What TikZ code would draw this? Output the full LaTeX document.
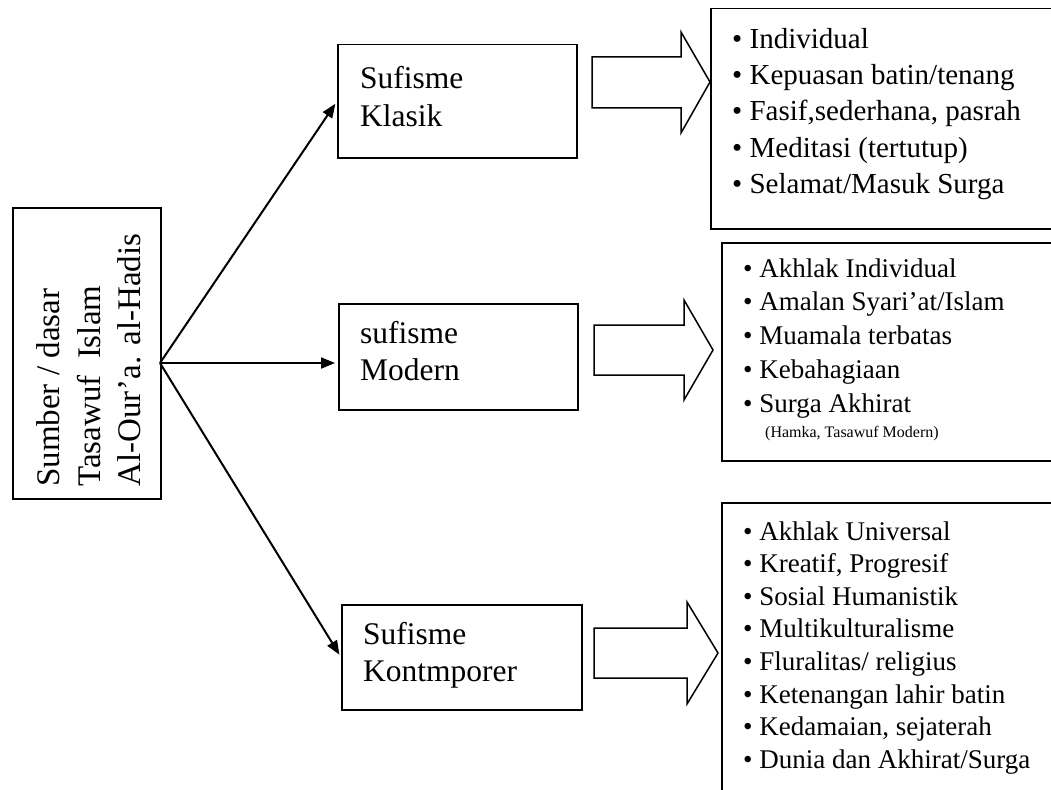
\documentclass[tikz,border=0pt]{standalone}
\usepackage{fontspec}
\setmainfont{Liberation Serif}
\usetikzlibrary{arrows.meta,calc}
\begin{document}
\begin{tikzpicture}[x=1pt,y=-1pt,
  box/.style={draw, line width=1.5pt, inner sep=0pt, anchor=north west},
  conn/.style={line width=2pt, -{Triangle[length=14pt,width=11pt]}, shorten >=3pt},
  blk/.style={draw, line width=1.5pt, line join=miter},
  rot/.style={rotate=90, anchor=base west, inner sep=0pt, font=\fontsize{33}{40}\selectfont},
  lbl/.style={anchor=base west, inner sep=0pt, font=\fontsize{31.5}{37}\selectfont},
  itma/.style={anchor=base west, inner sep=0pt, font=\fontsize{29}{36}\selectfont},
  itmb/.style={anchor=base west, inner sep=0pt, font=\fontsize{27}{33}\selectfont},
  note/.style={anchor=base west, inner sep=0pt, font=\fontsize{16}{19}\selectfont}]
\useasboundingbox (0,0) rectangle (1051,789);
\clip (0,0) rectangle (1051,789);

% main boxes
\node[box, minimum width=148pt, minimum height=291pt] (src) at (12,207) {};
\node[box, minimum width=239pt, minimum height=113pt] (klasik) at (337,44) {};
\node[box, minimum width=239pt, minimum height=106pt] (modern) at (338,303) {};
\node[box, minimum width=240pt, minimum height=105pt] (kont) at (341,604) {};

% right boxes (cut by the frame)
\node[box, minimum width=370pt, minimum height=220pt] (r1) at (710,8) {};
\node[box, minimum width=360pt, minimum height=218pt] (r2) at (721,242) {};
\node[box, minimum width=360pt, minimum height=320pt] (r3) at (721,502) {};

% rotated source text
\node[rot] (s1) at (59,487) {Sumber / dasar};
\node[rot] (s2) at (100,487) {Tasawuf\ \ Islam};
\node[rot] (s3) at (140,487) {Al-Our’a. al-Hadis};

% box labels
\node[lbl] (k1) at (360,89) {Sufisme};
\node[lbl] (k2) at (360,127) {Klasik};
\node[lbl] (m1) at (360,343) {sufisme};
\node[lbl] (m2) at (360,380) {Modern};
\node[lbl] (c1) at (363,644) {Sufisme};
\node[lbl] (c2) at (363,681) {Kontmporer};

% connectors
\coordinate (o) at (160,363);
\draw[conn] (o) -- (klasik.west);
\draw[conn] (o) -- (o -| modern.west);
\draw[conn] (o) -- (kont.west);

% block arrows
\draw[blk] (592,57) -- (681,57) -- (681,32) -- (710,82) -- (681,133) -- (681,108) -- (592,108) -- cycle;
\draw[blk] (594,325) -- (684,325) -- (684,300) -- (713,350) -- (684,400) -- (684,375) -- (594,375) -- cycle;
\draw[blk] (594,628) -- (687,628) -- (687,602) -- (718,653) -- (687,704) -- (687,678) -- (594,678) -- cycle;

% list 1
\foreach \t [count=\i] in {Individual, Kepuasan batin/tenang, {Fasif,sederhana, pasrah}, Meditasi (tertutup), Selamat/Masuk Surga}
  \node[itma] (a\i) at (732,{49+36*(\i-1)}) {\textbullet\ \t};

% list 2
\foreach \t [count=\i] in {Akhlak Individual, Amalan Syari’at/Islam, Muamala terbatas, Kebahagiaan, Surga Akhirat}
  \node[itmb] (b\i) at (743,{277+33.8*(\i-1)}) {\textbullet\ \t};
\node[note] (b6) at (765,437) {(Hamka, Tasawuf Modern)};

% list 3
\foreach \t [count=\i] in {Akhlak Universal, {Kreatif, Progresif}, Sosial Humanistik, Multikulturalisme, Fluralitas/ religius, Ketenangan lahir batin, {Kedamaian, sejaterah}, Dunia dan Akhirat/Surga}
  \node[itmb] (c\i x) at (743,{540+32.6*(\i-1)}) {\textbullet\ \t};
\end{tikzpicture}
\end{document}
